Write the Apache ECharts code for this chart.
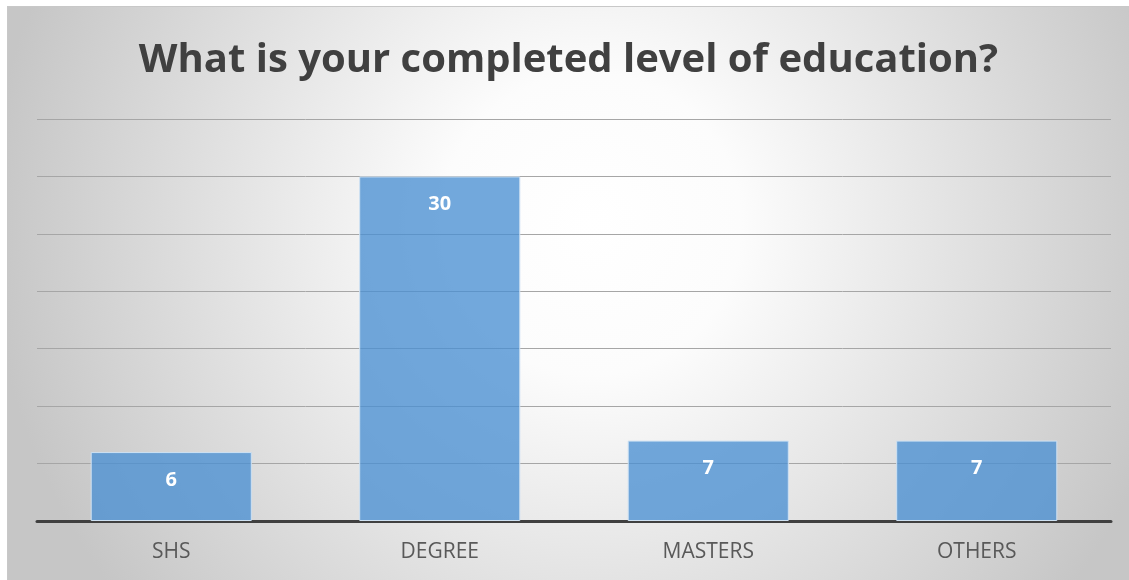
<!DOCTYPE html>
<html>
<head>
<meta charset="utf-8">
<script src="https://cdn.jsdelivr.net/npm/echarts@6/dist/echarts.min.js"></script>
<style>
  html, body { margin: 0; padding: 0; background: #fff; }
  #chart { position: absolute; left: 7px; top: 6px; width: 1121px; height: 573px; border: 1px solid #c8c8c8; }
</style>
</head>
<body>
<div id="chart"></div>
<script>
const categories = ['SHS', 'DEGREE', 'MASTERS', 'OTHERS'];
const counts = [6, 30, 7, 7];
const chartTitle = 'What is your completed level of education?';

const chart = echarts.init(document.getElementById('chart'));
chart.setOption({
  animation: false,
  backgroundColor: {
    type: 'radial', x: 0.52, y: 0.38, r: 1.05,
    colorStops: [
      { offset: 0, color: '#ffffff' },
      { offset: 0.25, color: '#fcfcfc' },
      { offset: 1, color: '#c6c6c6' }
    ]
  },
  title: {
    text: chartTitle,
    left: 'center',
    top: 29,
    textStyle: { fontFamily: 'Open Sans', fontWeight: 'bold', fontSize: 40, color: '#404040' }
  },
  grid: { left: 29, right: 18, top: 112, bottom: 59 },
  xAxis: {
    type: 'category',
    data: categories,
    axisLine: { lineStyle: { color: '#404040', width: 3 } },
    axisTick: { show: false },
    axisLabel: { fontFamily: 'Open Sans', fontSize: 21, color: '#595959', margin: 21 }
  },
  yAxis: {
    type: 'value',
    min: 0,
    max: 35,
    interval: 5,
    axisLabel: { show: false },
    axisLine: { show: false },
    axisTick: { show: false },
    splitLine: { lineStyle: { color: '#a6a6a6', width: 1 } }
  },
  series: [{
    type: 'bar',
    data: counts,
    barCategoryGap: '40%',
    itemStyle: { color: 'rgba(74,144,210,0.78)', borderColor: '#cfe2f3', borderWidth: 1 },
    label: {
      show: true,
      position: 'insideTop',
      distance: 18,
      color: '#ffffff',
      fontFamily: 'Open Sans',
      fontWeight: 'bold',
      fontSize: 20
    }
  }]
});
</script>
</body>
</html>
